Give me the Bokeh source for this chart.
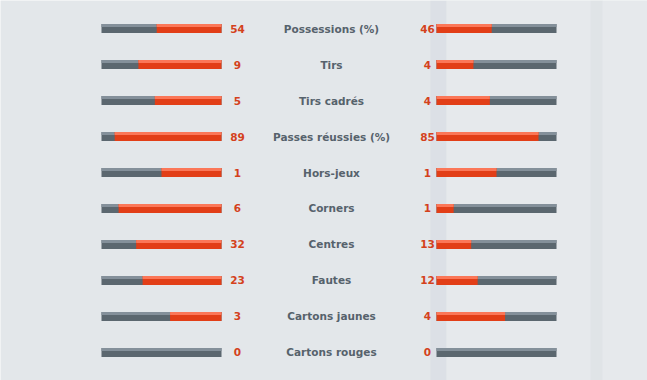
from bokeh.plotting import figure
from bokeh.models import Range1d
from bokeh.embed import file_html
from bokeh.resources import INLINE
from bokeh.core.properties import value

categories = ["Possessions (%)", "Tirs", "Tirs cadrés", "Passes réussies (%)", "Hors-jeux",
              "Corners", "Centres", "Fautes", "Cartons jaunes", "Cartons rouges"]
home = [54, 9, 5, 89, 1, 6, 32, 23, 3, 0]
away = [46, 4, 4, 85, 1, 1, 13, 12, 4, 0]

# layout (pixels)
W, H = 647, 380
L0, L1 = 101, 221   # left bar extent
R0, R1 = 436, 556   # right bar extent
BH = 9 / 36.0       # bar height in row units
TOP = 3 / 36.0      # light strip height

n = len(categories)
ys = list(range(n))

def frac(v, other, cat):
    if "(%)" in cat:
        return v / 100.0
    return v / (v + other) if (v + other) > 0 else 0

hf = [frac(h, a, c) for h, a, c in zip(home, away, categories)]
af = [frac(a, h, c) for h, a, c in zip(home, away, categories)]

p = figure(width=W, height=H, output_backend="svg", toolbar_location=None,
           x_range=Range1d(0, W), y_range=Range1d(9.778, -0.778),
           min_border=0, background_fill_color="#e3e7ea", border_fill_color="#e3e7ea",
           outline_line_color=None)
p.axis.visible = False
p.grid.visible = False

# faint background panels
p.quad(left=[430], right=[446], top=[-0.778], bottom=[9.778], fill_color="#d9dde4", line_color=None, fill_alpha=0.7)
p.quad(left=[446], right=[W], top=[-0.778], bottom=[9.778], fill_color="#e6e9ec", line_color=None)
p.quad(left=[590], right=[602], top=[-0.778], bottom=[9.778], fill_color="#dde1e6", line_color=None, fill_alpha=0.7)

def bars(x0, x1, fr, side):
    ytop = [y - BH / 2 for y in ys]
    ybot = [y + BH / 2 for y in ys]
    ymid = [y - BH / 2 + TOP for y in ys]
    p.quad(left=[x0] * n, right=[x1] * n, top=ytop, bottom=ybot, fill_color="#5b676f", line_color=None)
    p.quad(left=[x0] * n, right=[x1] * n, top=ytop, bottom=ymid, fill_color="#84909a", line_color=None)
    w = x1 - x0
    if side == "left":
        lefts = [x1 - f * w for f in fr]
        rights = [x1] * n
    else:
        lefts = [x0] * n
        rights = [x0 + f * w for f in fr]
    p.quad(left=lefts, right=rights, top=ytop, bottom=ybot, fill_color="#e23e17", line_color=None)
    p.quad(left=lefts, right=rights, top=ytop, bottom=ymid, fill_color="#fb7758", line_color=None)

bars(L0, L1, hf, "left")
bars(R0, R1, af, "right")

font = value("DejaVu Sans")
p.text(x=[331] * n, y=ys, text=categories, text_font=font, text_font_size="10.5px",
       text_font_style="bold", text_color="#56626c", text_align="center", text_baseline="middle")
p.text(x=[237] * n, y=ys, text=[str(v) for v in home], text_font=font, text_font_size="10.5px",
       text_font_style="bold", text_color="#d4411c", text_align="center", text_baseline="middle")
p.text(x=[427] * n, y=ys, text=[str(v) for v in away], text_font=font, text_font_size="10.5px",
       text_font_style="bold", text_color="#d4411c", text_align="center", text_baseline="middle")

open("out.html", "w").write(file_html(p, INLINE))
